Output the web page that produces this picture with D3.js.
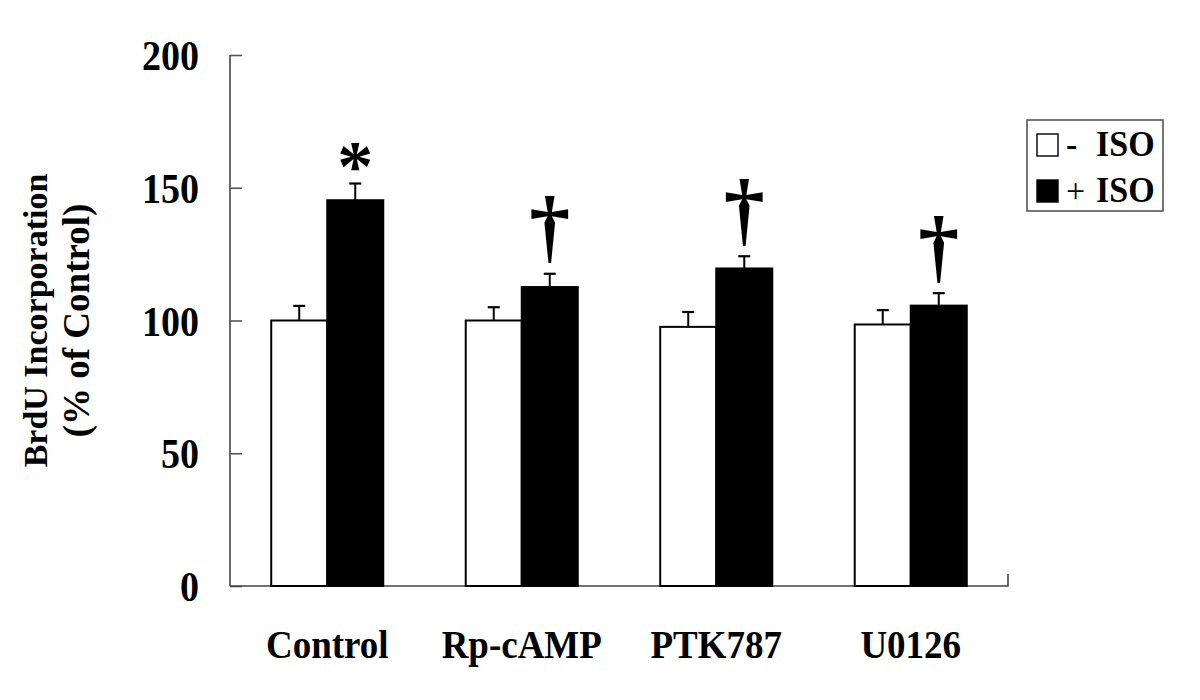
<!DOCTYPE html>
<html>
<head>
<meta charset="utf-8">
<script src="https://cdn.jsdelivr.net/npm/d3@7"></script>
<style>
  html, body { margin: 0; padding: 0; background: #fff; }
  svg { display: block; }
  text { font-family: "Liberation Serif", "Times New Roman", serif; }
</style>
</head>
<body>
<svg id="chart" width="1200" height="700"></svg>
<script>
// ---- data ----
const categories = ["Control", "Rp-cAMP", "PTK787", "U0126"];
const seriesNames = ["- ISO", "+ ISO"];
const minusIso = [100, 100, 97.6, 98.5];
const minusIsoErr = [5.5, 5, 5.6, 5.4];
const plusIso = [145.3, 112.6, 119.6, 105.6];
const plusIsoErr = [6.3, 5, 4.6, 4.7];
const significance = ["*", "†", "†", "†"];
const yTicks = [0, 50, 100, 150, 200];

const svg = d3.select("#chart");
const x0 = d3.scaleBand().domain(categories).range([230, 1008]).paddingInner(0.424).paddingOuter(0.212);
const x1 = d3.scaleBand().domain(seriesNames).range([0, x0.bandwidth()]).padding(0);
const y = d3.scaleLinear().domain([0, 200]).range([586, 55]);

const rows = categories.map((c, i) => ({
  cat: c,
  vals: [
    { s: seriesNames[0], v: minusIso[i], e: minusIsoErr[i] },
    { s: seriesNames[1], v: plusIso[i], e: plusIsoErr[i] }
  ],
  sig: significance[i]
}));

// y axis
const yAxis = d3.axisRight(y).tickValues(yTicks).tickSize(12).tickFormat("");
const gy = svg.append("g").attr("transform", "translate(230,0)").call(yAxis);
gy.select(".domain").attr("stroke", "#444").attr("stroke-width", 1.6).attr("d", `M0,${y(200)}V${y(0)}`);
gy.selectAll(".tick line").attr("stroke", "#555").attr("stroke-width", 1.6);

svg.append("g").selectAll("text").data(yTicks).join("text")
  .attr("transform", d => `translate(199,${y(d)}) scale(1,1.1)`)
  .attr("dy", "0.36em")
  .attr("text-anchor", "end").attr("font-size", 38).attr("font-weight", "bold")
  .text(d => d);

// x axis baseline
const xr = x0.range();
svg.append("path").attr("d", `M${xr[0]},${y(0)}H${xr[1]}V${y(0) - 12}`)
  .attr("fill", "none").attr("stroke", "#444").attr("stroke-width", 1.6);

// bars
const groups = svg.append("g").selectAll("g").data(rows).join("g")
  .attr("transform", d => `translate(${x0(d.cat)},0)`);

groups.selectAll("g.err").data(d => d.vals).join("g").attr("class", "err")
  .each(function(d) {
    const g = d3.select(this);
    const cx = x1(d.s) + x1.bandwidth() / 2;
    g.append("line").attr("x1", cx).attr("x2", cx).attr("y1", y(d.v)).attr("y2", y(d.v + d.e))
      .attr("stroke", "#000").attr("stroke-width", 2);
    g.append("line").attr("x1", cx - 6).attr("x2", cx + 6).attr("y1", y(d.v + d.e)).attr("y2", y(d.v + d.e))
      .attr("stroke", "#000").attr("stroke-width", 2.2);
  });

groups.selectAll("rect").data(d => d.vals).join("rect")
  .attr("x", d => x1(d.s)).attr("width", x1.bandwidth())
  .attr("y", d => y(d.v)).attr("height", d => y(0) - y(d.v))
  .attr("fill", (d, i) => i === 0 ? "#fff" : "#000")
  .attr("stroke", "#000").attr("stroke-width", 2);

// significance marks
groups.each(function(d) {
  const g = d3.select(this);
  const p = d.vals[1];
  const cx = x1(p.s) + x1.bandwidth() / 2;
  const isStar = d.sig === "*";
  const t = g.append("text").attr("x", cx).attr("y", 0)
    .attr("text-anchor", "middle")
    .attr("font-size", isStar ? 72 : 82)
    .attr("font-weight", "bold")
    .text(d.sig);
  const bb = t.node().getBBox();
  const targetBottom = y(p.v + p.e) - (isStar ? 14 : 9);
  const glyphBottomOffset = isStar ? bb.y + bb.height * 0.55 : bb.y + bb.height * 0.93;
  t.attr("y", targetBottom - glyphBottomOffset);
});

// x labels
svg.append("g").selectAll("text").data(categories).join("text")
  .attr("transform", d => `translate(${x0(d) + x0.bandwidth() / 2},658) scale(1,1.08)`)
  .attr("text-anchor", "middle").attr("font-size", 37).attr("font-weight", "bold")
  .text(d => d);

// y title
const yt = svg.append("g").attr("transform", `translate(0,${(y(0) + y(200)) / 2}) rotate(-90)`);
yt.append("text").attr("x", 0).attr("y", 47).attr("text-anchor", "middle")
  .attr("font-size", 34).attr("font-weight", "bold").text("BrdU Incorporation");
yt.append("text").attr("x", 0).attr("y", 89).attr("text-anchor", "middle")
  .attr("font-size", 37).attr("font-weight", "bold").text("(% of Control)");

// legend
const lg = svg.append("g");
lg.append("rect").attr("x", 1027).attr("y", 120).attr("width", 136).attr("height", 91)
  .attr("fill", "#fff").attr("stroke", "#555").attr("stroke-width", 1.6);
const legendRows = [
  { sym: "-", name: "ISO", fill: "#fff", bold: true },
  { sym: "+", name: "ISO", fill: "#000", bold: false }
];
legendRows.forEach((r, i) => {
  const yy = 134 + i * 46;
  lg.append("rect").attr("x", 1037).attr("y", yy).attr("width", 21).attr("height", 22)
    .attr("fill", r.fill).attr("stroke", "#000").attr("stroke-width", 1.4);
  lg.append("text").attr("x", 1066).attr("y", yy + 22).attr("font-size", 34)
    .attr("font-weight", r.bold ? "bold" : "normal").text(r.sym);
  lg.append("text").attr("transform", `translate(1096,${yy + 22}) scale(1,1.08)`).attr("font-size", 34)
    .attr("font-weight", "bold").text(r.name);
});
</script>
</body>
</html>
